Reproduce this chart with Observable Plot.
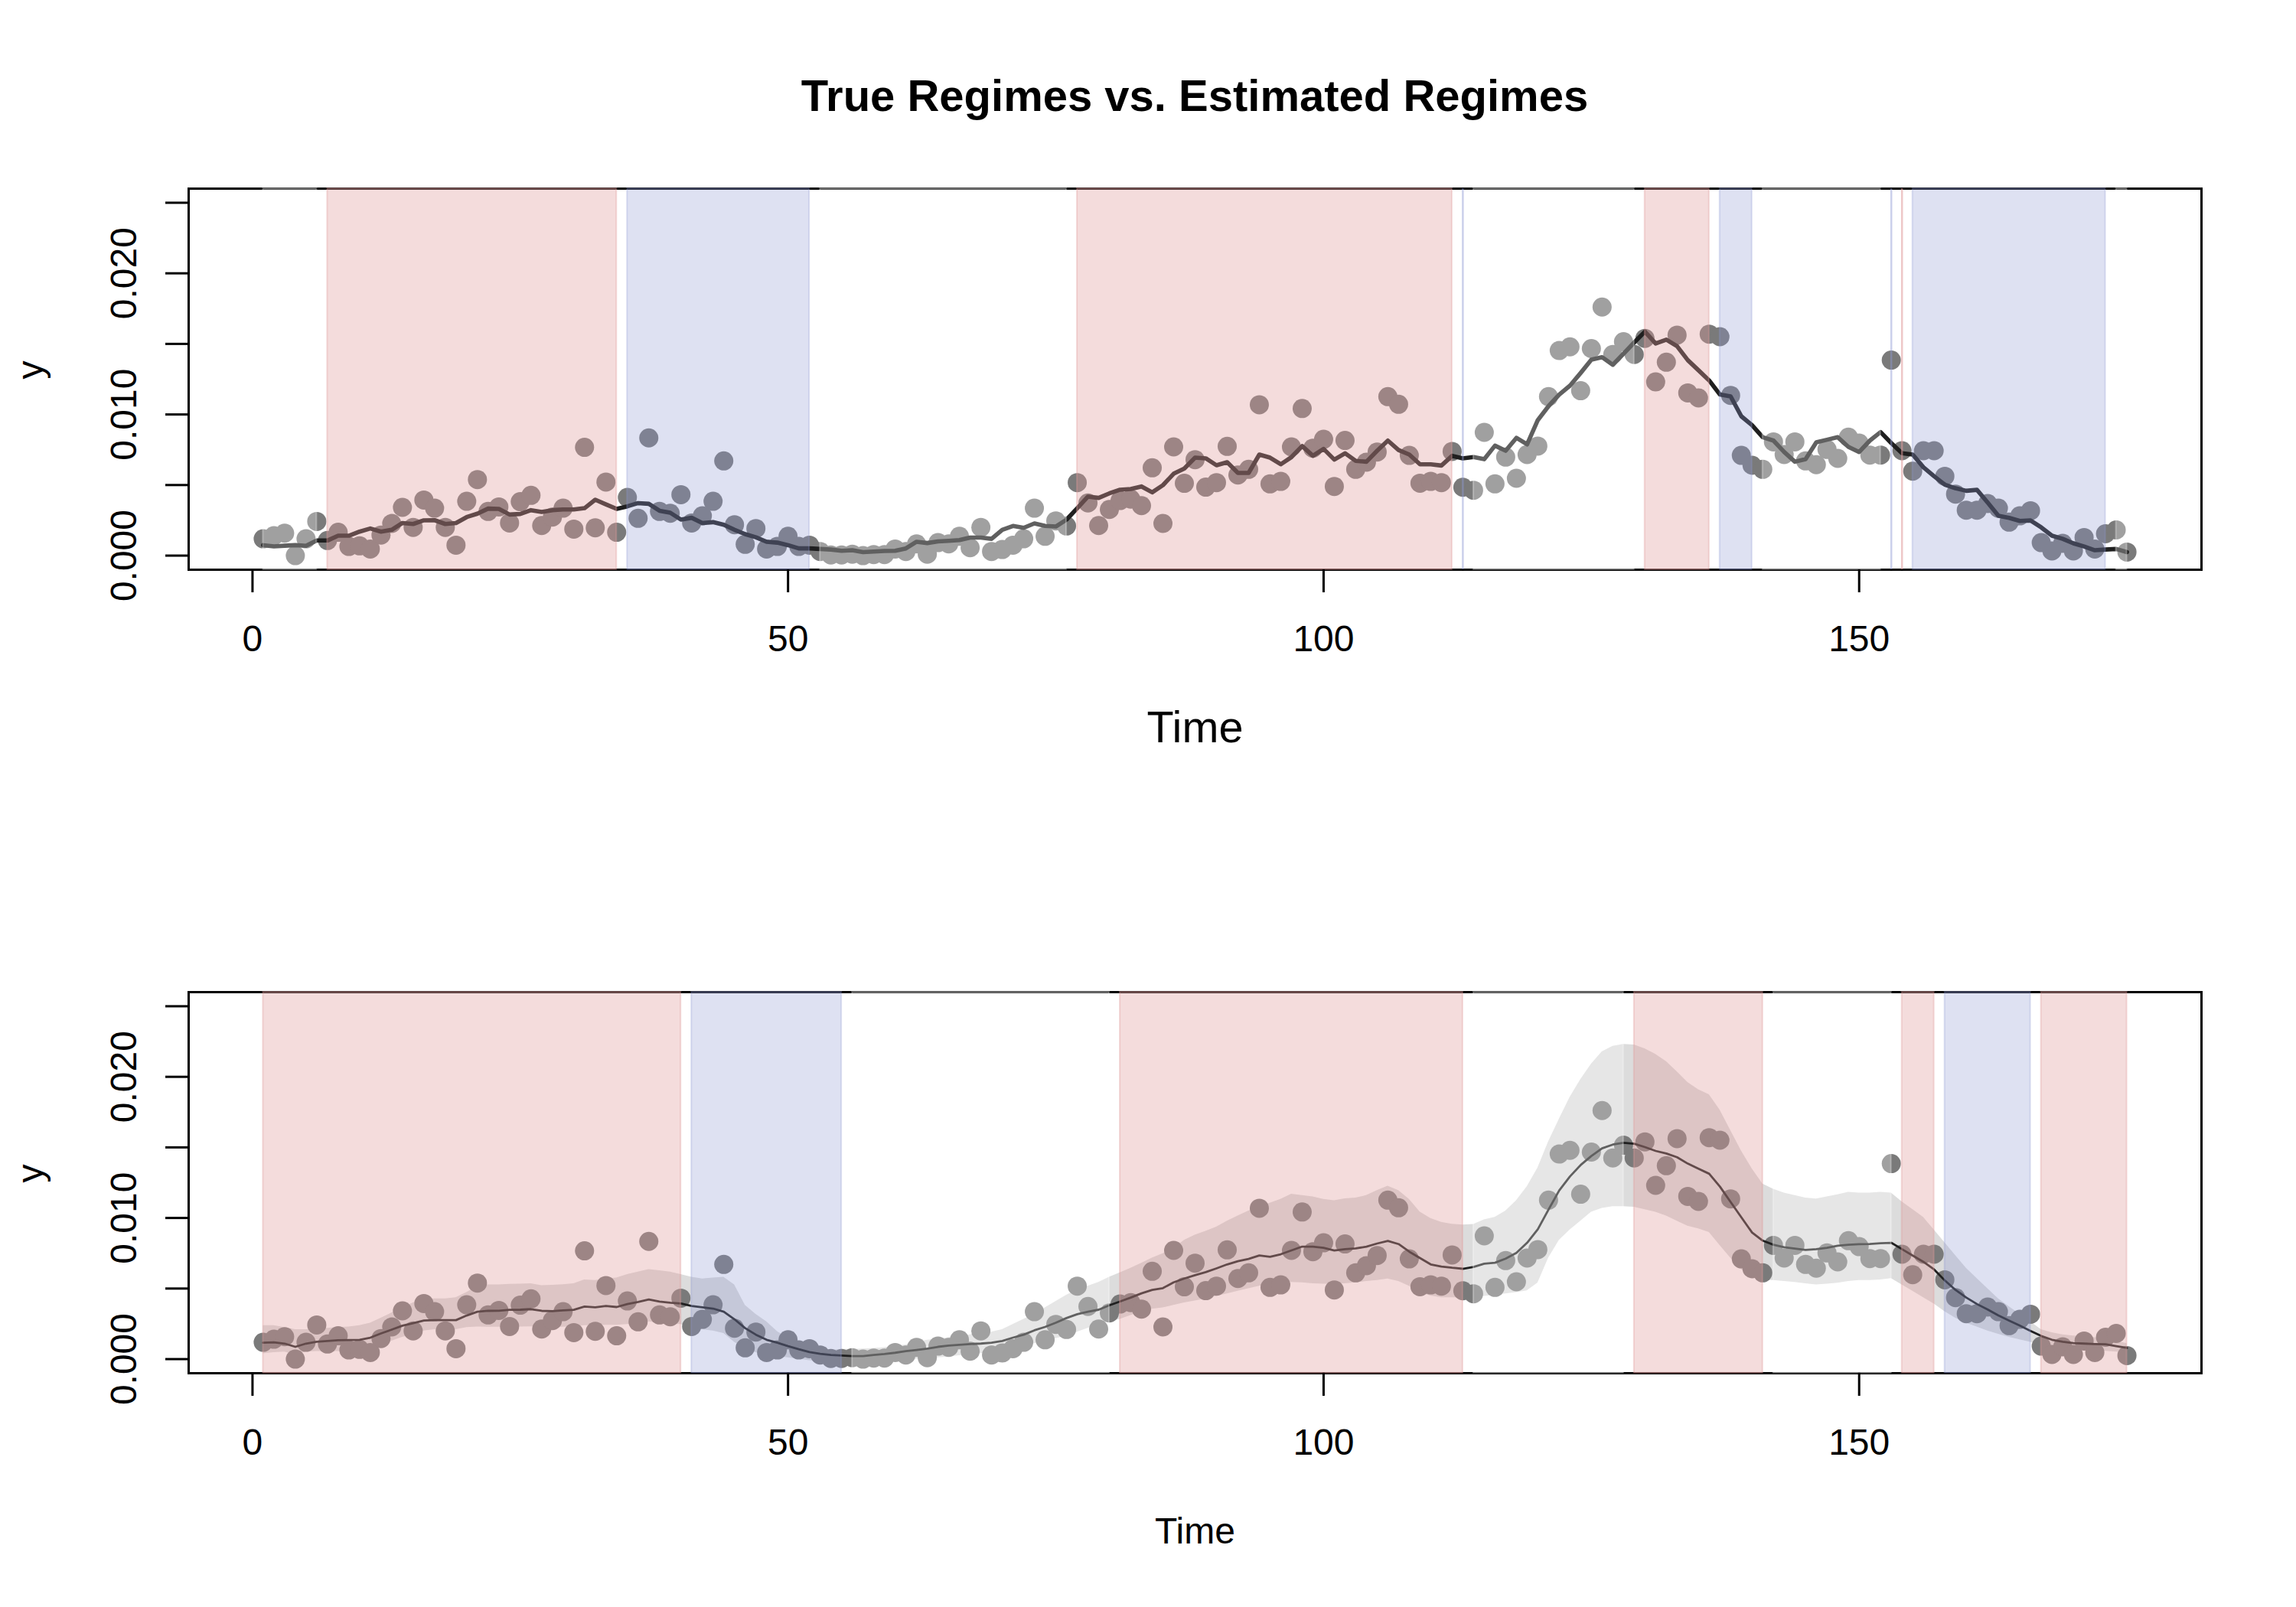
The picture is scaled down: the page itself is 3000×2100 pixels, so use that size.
<!DOCTYPE html>
<html>
<head>
<meta charset="utf-8">
<script src="https://cdn.jsdelivr.net/npm/d3@7"></script>
<script src="https://cdn.jsdelivr.net/npm/@observablehq/plot@0.6"></script>
<style>
html, body { margin: 0; padding: 0; background: #ffffff; }
#page { position: relative; width: 3000px; height: 2100px; background: #ffffff; overflow: hidden;
        font-family: "Liberation Sans", Arial, Helvetica, sans-serif; }
#title { position: absolute; left: 246px; width: 2630px; top: 90px; text-align: center;
         font-weight: bold; font-size: 58px; line-height: 70px; color: #000; }
.panel { position: absolute; left: 0; width: 3000px; height: 1050px; }
</style>
</head>
<body>
<div id="page">
  <div id="title">True Regimes vs. Estimated Regimes</div>
  <div id="top" class="panel" style="top:0px"></div>
  <div id="bottom" class="panel" style="top:1050px"></div>
</div>
<script>
// ---------------- data (values in units of 0.001) ----------------
const time = d3.range(1, 176); // time index 1..175

const obsMilli = [
  1.19, 1.41, 1.59, 0.00, 1.19, 2.42, 1.07, 1.65, 0.65, 0.69,
  0.47, 1.46, 2.28, 3.42, 2.00, 3.94, 3.36, 2.00, 0.74, 3.85,
  5.39, 3.13, 3.45, 2.31, 3.82, 4.27, 2.13, 2.73, 3.36, 1.88,
  7.67, 1.97, 5.21, 1.65, 4.12, 2.64, 8.34, 3.13, 3.00, 4.32,
  2.31, 2.82, 3.85, 6.71, 2.19, 0.80, 1.92, 0.47, 0.65, 1.37,
  0.65, 0.74, 0.29, 0.05, 0.05, 0.10, 0.00, 0.07, 0.07, 0.47,
  0.29, 0.83, 0.10, 0.92, 0.83, 1.37, 0.56, 2.00, 0.29, 0.43,
  0.74, 1.19, 3.36, 1.37, 2.46, 2.10, 5.17, 3.73, 2.13, 3.27,
  3.90, 4.00, 3.54, 6.22, 2.28, 7.70, 5.12, 6.80, 4.85, 5.17,
  7.74, 5.71, 6.11, 10.69, 5.08, 5.26, 7.70, 10.42, 7.61, 8.24,
  4.90, 8.16, 6.11, 6.62, 7.34, 11.26, 10.72, 7.10, 5.13, 5.26,
  5.17, 7.38, 4.84, 4.63, 8.73, 5.08, 6.98, 5.48, 7.16, 7.76,
  11.26, 14.53, 14.79, 11.68, 14.67, 17.61, 14.25, 15.15, 14.25, 15.39,
  12.31, 13.70, 15.62, 11.53, 11.17, 15.69, 15.51, 11.35, 7.10, 6.40,
  6.11, 8.06, 7.16, 8.06, 6.71, 6.44, 7.52, 6.89, 8.39, 7.97,
  7.12, 7.12, 13.85, 7.43, 5.98, 7.43, 7.43, 5.62, 4.36, 3.22,
  3.22, 3.69, 3.36, 2.37, 2.82, 3.18, 0.92, 0.33, 0.87, 0.33,
  1.28, 0.47, 1.55, 1.82, 0.25
];

// top panel: filtered estimate (jagged line)
const filterMilli = [
  0.74, 0.65, 0.70, 0.74, 0.69, 1.07, 1.07, 1.41, 1.41, 1.70,
  1.92, 1.70, 1.83, 2.31, 2.24, 2.50, 2.51, 2.24, 2.31, 2.73,
  2.97, 3.33, 3.31, 2.91, 2.95, 3.22, 3.09, 3.22, 3.27, 3.27,
  3.36, 3.96, 3.63, 3.31, 3.49, 3.72, 3.67, 3.18, 3.04, 2.55,
  2.68, 2.31, 2.37, 2.19, 1.83, 1.52, 1.30, 0.98, 0.92, 0.74,
  0.51, 0.51, 0.47, 0.43, 0.34, 0.38, 0.25, 0.29, 0.33, 0.34,
  0.51, 0.98, 0.89, 1.01, 1.05, 1.10, 1.28, 1.28, 1.19, 1.83,
  2.10, 1.97, 2.28, 2.10, 2.06, 2.55, 3.36, 4.18, 4.09, 4.41,
  4.67, 4.72, 4.90, 4.48, 4.99, 5.80, 6.17, 6.94, 6.89, 6.40,
  6.62, 5.86, 5.86, 7.16, 6.94, 6.47, 6.98, 7.76, 7.07, 7.56,
  6.80, 7.25, 6.71, 6.65, 7.43, 8.15, 7.48, 7.16, 6.47, 6.47,
  6.38, 7.07, 6.89, 6.98, 6.83, 7.79, 7.43, 8.34, 7.88, 9.60,
  10.59, 11.41, 12.04, 12.94, 13.88, 14.06, 13.52, 14.30, 15.10, 15.87,
  15.03, 15.30, 14.84, 13.85, 13.13, 12.41, 11.41, 11.28, 9.87, 9.24,
  8.39, 8.15, 7.34, 6.65, 6.83, 8.03, 8.21, 8.39, 7.70, 7.34,
  8.15, 8.75, 7.97, 7.25, 7.16, 6.26, 5.62, 5.03, 4.77, 4.59,
  4.66, 3.76, 2.82, 2.67, 2.46, 2.49, 2.00, 1.41, 1.19, 0.87,
  0.65, 0.38, 0.43, 0.47, 0.25
];

// bottom panel: smoothed estimate
const smoothMilli = [
  1.16, 1.19, 1.10, 0.87, 1.10, 1.23, 1.28, 1.34, 1.35, 1.37,
  1.52, 1.82, 2.09, 2.37, 2.55, 2.73, 2.76, 2.76, 2.76, 3.09,
  3.36, 3.42, 3.43, 3.49, 3.50, 3.54, 3.42, 3.40, 3.45, 3.49,
  3.72, 3.67, 3.76, 3.69, 3.90, 4.05, 4.23, 4.08, 3.99, 3.94,
  3.76, 3.67, 3.58, 3.36, 2.82, 2.19, 1.73, 1.37, 1.16, 0.92,
  0.70, 0.50, 0.38, 0.29, 0.25, 0.21, 0.21, 0.29, 0.36, 0.45,
  0.56, 0.65, 0.74, 0.87, 0.96, 1.01, 1.07, 1.10, 1.16, 1.28,
  1.52, 1.73, 2.04, 2.28, 2.58, 2.91, 3.18, 3.36, 3.50, 3.81,
  4.08, 4.36, 4.66, 4.90, 5.03, 5.44, 5.71, 5.95, 6.16, 6.43,
  6.71, 6.94, 7.10, 7.34, 7.25, 7.43, 7.70, 7.97, 7.97, 7.88,
  7.70, 7.79, 7.84, 7.97, 8.19, 8.37, 8.15, 7.61, 7.16, 6.71,
  6.56, 6.47, 6.40, 6.53, 6.76, 6.83, 7.12, 7.52, 8.24, 9.20,
  10.60, 11.95, 12.94, 13.75, 14.39, 14.93, 15.20, 15.33, 15.26, 15.02,
  14.75, 14.57, 14.30, 13.85, 13.49, 13.13, 12.22, 11.13, 10.05, 8.97,
  8.39, 8.10, 7.92, 7.83, 7.74, 7.79, 7.88, 8.03, 8.10, 8.14,
  8.16, 8.21, 8.24, 7.79, 7.34, 6.89, 6.35, 5.57, 4.90, 4.36,
  3.90, 3.51, 3.09, 2.73, 2.37, 2.00, 1.64, 1.37, 1.23, 1.14,
  1.10, 1.07, 1.05, 0.92, 0.79
];

const bandHiMilli = [
  2.37, 2.37, 2.24, 2.09, 2.09, 2.13, 2.19, 2.24, 2.28, 2.37,
  2.55, 2.91, 3.27, 3.63, 3.99, 4.23, 4.27, 4.27, 4.36, 4.72,
  5.17, 5.26, 5.26, 5.30, 5.32, 5.35, 5.21, 5.24, 5.28, 5.35,
  5.62, 5.57, 5.68, 5.75, 5.99, 6.17, 6.35, 6.26, 6.17, 5.99,
  5.80, 5.68, 5.75, 5.80, 5.26, 3.81, 3.18, 2.64, 1.95, 1.46,
  1.19, 0.92, 0.69, 0.61, 0.69, 0.70, 0.72, 0.76, 0.82, 0.92,
  1.01, 1.19, 1.34, 1.41, 1.52, 1.59, 1.73, 1.82, 1.91, 2.09,
  2.46, 2.82, 3.18, 3.63, 4.08, 4.53, 4.89, 5.17, 5.44, 5.80,
  6.11, 6.44, 6.80, 7.16, 7.47, 7.84, 8.42, 8.79, 9.06, 9.36,
  9.78, 10.14, 10.50, 10.78, 11.05, 11.32, 11.68, 11.59, 11.50, 11.32,
  11.23, 11.36, 11.41, 11.59, 11.95, 12.26, 11.95, 11.32, 10.42, 9.96,
  9.69, 9.56, 9.51, 9.55, 9.87, 10.05, 10.50, 11.23, 12.21, 13.55,
  15.40, 17.00, 18.55, 19.80, 20.90, 21.77, 22.17, 22.30, 22.26, 21.99,
  21.60, 21.08, 20.36, 19.60, 19.09, 18.73, 17.65, 16.20, 14.75, 13.49,
  12.40, 12.04, 11.77, 11.59, 11.41, 11.35, 11.50, 11.64, 11.82, 11.77,
  11.77, 11.82, 11.77, 11.14, 10.60, 10.05, 9.15, 8.24, 7.34, 6.44,
  5.71, 4.99, 4.27, 3.72, 3.18, 2.64, 2.09, 1.88, 1.73, 1.64,
  1.59, 1.52, 1.41, 1.28, 1.10
];

const bandLoMilli = [
  0.38, 0.47, 0.50, 0.30, 0.50, 0.55, 0.55, 0.55, 0.50, 0.50,
  0.65, 1.00, 1.28, 1.55, 1.73, 2.00, 2.09, 2.09, 2.09, 2.24,
  2.28, 2.26, 2.26, 2.28, 2.28, 2.30, 2.24, 2.24, 2.26, 2.30,
  2.37, 2.37, 2.40, 2.40, 2.46, 2.51, 2.64, 2.55, 2.49, 2.46,
  2.28, 2.09, 2.00, 1.82, 1.19, 0.74, 0.47, 0.29, 0.20, 0.10,
  0.00, -0.10, -0.15, -0.20, -0.20, -0.20, -0.20, -0.18, -0.15, -0.10,
  -0.05, 0.00, 0.05, 0.10, 0.15, 0.25, 0.32, 0.40, 0.47, 0.56,
  0.74, 0.92, 1.10, 1.28, 1.46, 1.64, 1.91, 2.19, 2.46, 2.64,
  2.82, 3.09, 3.36, 3.54, 3.63, 3.81, 3.99, 4.12, 4.27, 4.45,
  4.63, 4.81, 4.99, 5.17, 5.31, 5.35, 5.44, 5.41, 5.35, 5.31,
  5.31, 5.35, 5.41, 5.50, 5.57, 5.68, 5.50, 5.17, 4.72, 4.48,
  4.36, 4.36, 4.36, 4.36, 4.45, 4.53, 4.63, 4.72, 4.84, 5.40,
  7.16, 8.42, 9.15, 9.78, 10.41, 10.69, 10.81, 10.81, 10.77, 10.59,
  10.41, 10.14, 9.78, 9.42, 9.24, 8.97, 8.06, 7.16, 6.35, 5.80,
  5.62, 5.57, 5.50, 5.44, 5.35, 5.26, 5.31, 5.39, 5.50, 5.57,
  5.57, 5.62, 5.71, 5.26, 4.81, 4.36, 3.90, 3.36, 2.91, 2.55,
  2.28, 2.00, 1.77, 1.55, 1.37, 1.19, 0.92, 0.74, 0.65, 0.61,
  0.61, 0.61, 0.56, 0.50, 0.47
];

// regime runs (1 = red regime, 2 = blue regime, 3 = neutral)
const trueStart = [1, 7, 35, 53, 77, 113, 114, 130, 137, 141, 153, 154, 155, 174];
const trueEnd   = [6, 34, 52, 76, 112, 113, 129, 136, 140, 152, 153, 154, 173, 175];
const trueState = [3, 1, 2, 3, 1, 2, 3, 1, 2, 3, 2, 1, 2, 3];

const estStart = [1, 41, 56, 81, 114, 129, 142, 154, 158, 167];
const estEnd   = [40, 55, 80, 113, 128, 141, 153, 157, 166, 175];
const estState = [1, 2, 3, 1, 3, 1, 3, 1, 2, 1];

const xTicks = [0, 50, 100, 150];
const yTicks = [0, 0.005, 0.010, 0.015, 0.020, 0.025];
const yLabelTicks = [0, 0.010, 0.020];

// ---------------- styling ----------------
const regimeFill  = {1: "rgb(224,156,156)", 2: "rgb(143,153,211)", 3: "#ffffff"};
const regimeAlpha = {1: 0.35, 2: 0.29, 3: 0.29};
const pointFill = "#7a7a7a";
const lineColor = "#1f1f1f";
const bandFill = "#dcdcdc";
const FONT = '"Liberation Sans", Arial, Helvetica, sans-serif';

function runs(starts, ends, states) {
  return starts.map((s, i) => ({start: s, end: ends[i], state: states[i]}));
}

function makePanel({runList, fitMilli, band, fitWidth, timeSize}) {
  const pts = time.map((t, i) => ({t, y: obsMilli[i] / 1000}));
  const fit = time.map((t, i) => ({t, y: fitMilli[i] / 1000}));
  const marks = [];
  if (band) {
    const bandRows = time.map((t, i) => ({t, lo: bandLoMilli[i] / 1000, hi: bandHiMilli[i] / 1000}));
    marks.push(Plot.areaY(bandRows, {x: "t", y1: "lo", y2: "hi", fill: bandFill}));
  }
  marks.push(Plot.dot(pts, {x: "t", y: "y", r: 12.5, fill: pointFill}));
  marks.push(Plot.line(fit, {x: "t", y: "y", stroke: lineColor, strokeWidth: fitWidth, strokeLinejoin: "round"}));
  marks.push(Plot.frame({stroke: "#000", strokeWidth: 3}));
  for (const s of [1, 2, 3]) {
    const wide = runList.filter(d => d.state === s && d.end > d.start);
    const thin = runList.filter(d => d.state === s && d.end === d.start);
    marks.push(Plot.rect(wide, {x1: "start", x2: "end", fill: regimeFill[s], fillOpacity: regimeAlpha[s],
      stroke: regimeFill[s], strokeOpacity: regimeAlpha[s], strokeWidth: 2}));
    if (thin.length) marks.push(Plot.ruleX(thin, {x: "start", stroke: regimeFill[s], strokeOpacity: Math.min(1, regimeAlpha[s] * 1.6), strokeWidth: 2.5}));
  }
  marks.push(Plot.axisX({ticks: xTicks, tickSize: 30, tickPadding: 42, strokeWidth: 3, fontSize: 48,
    tickFormat: d => String(d), label: null}));
  marks.push(Plot.axisY({ticks: yTicks, tickSize: 30, strokeWidth: 3, tickFormat: () => "", label: null}));
  marks.push(Plot.axisY({ticks: yLabelTicks, tickSize: 0, tickPadding: 84, rotate: -90, textAnchor: "middle",
    fontSize: 48, tickFormat: d3.format(".3f"), label: null}));
  marks.push(Plot.text(["Time"], {text: d => d, frameAnchor: "bottom", dy: 207, fontSize: timeSize, lineAnchor: "middle"}));
  marks.push(Plot.text(["y"], {text: d => d, frameAnchor: "left", dx: -206, rotate: -90, fontSize: 48, lineAnchor: "middle"}));

  return Plot.plot({
    width: 3000, height: 1050,
    marginTop: 246, marginBottom: 306, marginLeft: 246, marginRight: 124,
    x: {domain: [-5.96, 181.96]},
    y: {domain: [-0.001, 0.026]},
    style: {fontFamily: FONT, fontSize: "48px", background: "transparent", overflow: "visible", color: "#000"},
    marks
  });
}

document.getElementById("top").append(makePanel({
  runList: runs(trueStart, trueEnd, trueState), fitMilli: filterMilli, band: false, fitWidth: 5.6, timeSize: 57.6
}));
document.getElementById("bottom").append(makePanel({
  runList: runs(estStart, estEnd, estState), fitMilli: smoothMilli, band: true, fitWidth: 2.8, timeSize: 48
}));
</script>
</body>
</html>
